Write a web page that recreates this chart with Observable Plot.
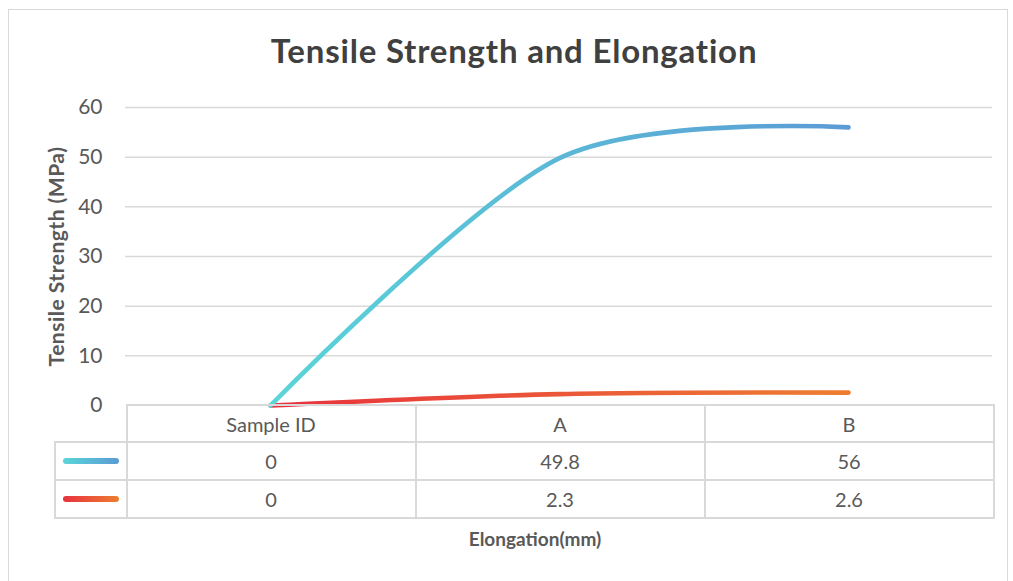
<!DOCTYPE html>
<html>
<head>
<meta charset="utf-8">
<script src="https://cdn.jsdelivr.net/npm/d3@7"></script>
<script src="https://cdn.jsdelivr.net/npm/@observablehq/plot@0.6"></script>
<style>
  html, body { margin: 0; padding: 0; background: #fff; }
  body { width: 1013px; height: 581px; position: relative; overflow: hidden; font-family: Lato, "Open Sans", sans-serif; }
  #frame { position: absolute; left: 8px; top: 9px; width: 1000px; height: 640px; border: 1px solid #d9d9d9; box-sizing: border-box; }
  #title { position: absolute; left: 0; width: 1028px; top: 30px; text-align: center; font-weight: 700; font-size: 33px; letter-spacing: 0.8px; color: #404040; line-height: 40px; }
  #chart { position: absolute; left: 0; top: 0; }
  #tbl { position: absolute; border-collapse: collapse; table-layout: fixed; color: #595959; font-size: 20px; }
  #tbl td { border: 2px solid #d9d9d9; text-align: center; padding: 0; }
  #tbl td.blank { border: none; border-bottom: 2px solid #d9d9d9; border-right: 2px solid #d9d9d9; }
  #xlabel { position: absolute; font-weight: 700; font-size: 19px; color: #595959; text-align: center; }
  .sw { display: block; margin: 0 auto; height: 6px; border-radius: 3px; }
</style>
</head>
<body>
<div id="frame"></div>
<div id="title">Tensile Strength and Elongation</div>
<div id="chart"></div>
<table id="tbl"></table>
<div id="xlabel">Elongation(mm)</div>
<script>
// ---- data ----
const categories = ["Sample ID", "A", "B"];
const seriesNames = ["Tensile Strength", "Elongation"];
const tensileValues = [0, 49.8, 56];
const elongationValues = [0, 2.3, 2.6];
const yTicks = [0, 10, 20, 30, 40, 50, 60];
const yLabel = "Tensile Strength (MPa)";
const xLabel = "Elongation(mm)";
const gradients = [
  {id: "g1", from: "#5ad5d8", to: "#5b9bd5"},
  {id: "g2", from: "#e8323e", to: "#ed7d31"}
];

const seriesValues = [tensileValues, elongationValues];
const rows = seriesNames.flatMap((s, i) => categories.map((c, j) => ({series: s, cat: c, value: seriesValues[i][j]})));

const W = 1013;
const chart = Plot.plot({
  width: W,
  height: 420,
  marginLeft: 125,
  marginRight: 21,
  marginTop: 107,
  marginBottom: 15,
  style: {fontFamily: "Lato, 'Open Sans', sans-serif", fontSize: "21px", color: "#595959", background: "transparent", overflow: "visible"},
  x: {type: "point", domain: categories, padding: 0.5, axis: null},
  y: {domain: [0, 60], ticks: yTicks, tickSize: 0, tickPadding: 23, label: yLabel, labelAnchor: "center", labelArrow: "none", labelOffset: 76},
  marks: [
    Plot.gridY(yTicks.filter(d => d > 0), {stroke: "#d9d9d9", strokeOpacity: 1, strokeWidth: 1.5}),
    Plot.line(rows.filter(d => d.series === seriesNames[1]), {x: "cat", y: "value", stroke: "url(#g2)", strokeWidth: 4.6, strokeLinecap: "round", curve: "cardinal", tension: 0.1}),
    Plot.line(rows.filter(d => d.series === seriesNames[0]), {x: "cat", y: "value", stroke: "url(#g1)", strokeWidth: 4.6, strokeLinecap: "round", curve: "cardinal", tension: 0.1})
  ]
});

// gradient defs
const ns = "http://www.w3.org/2000/svg";
const defs = document.createElementNS(ns, "defs");
for (const g of gradients) {
  const lg = document.createElementNS(ns, "linearGradient");
  lg.setAttribute("id", g.id);
  lg.setAttribute("x1", "0"); lg.setAttribute("x2", "1");
  lg.setAttribute("y1", "0"); lg.setAttribute("y2", "0");
  for (const [off, col] of [["0", g.from], ["1", g.to]]) {
    const st = document.createElementNS(ns, "stop");
    st.setAttribute("offset", off);
    st.setAttribute("stop-color", col);
    lg.appendChild(st);
  }
  defs.appendChild(lg);
}
chart.insertBefore(defs, chart.firstChild);
// y-axis label styling
chart.querySelectorAll("[aria-label='y-axis label']").forEach(g => {
  g.style.fontWeight = "700";
  g.style.fontSize = "21px";
  g.querySelectorAll("text").forEach(t => { t.style.fontWeight = "700"; t.style.fontSize = "21px"; t.style.letterSpacing = "0.5px"; });
});
document.getElementById("chart").appendChild(chart);

// ---- data table from scales ----
const xs = chart.scale("x");
const ysc = chart.scale("y");
const step = xs.apply(categories[1]) - xs.apply(categories[0]);
const left0 = xs.apply(categories[0]) - step / 2;
const legendW = 72;
const tbl = document.getElementById("tbl");
tbl.style.left = (left0 - legendW) + "px";
tbl.style.top = (ysc.apply(0) - 1) + "px";
tbl.style.width = (legendW + step * categories.length) + "px";
const cg = document.createElement("colgroup");
[legendW, ...categories.map(() => step)].forEach(w => { const c = document.createElement("col"); c.style.width = w + "px"; cg.appendChild(c); });
tbl.appendChild(cg);
const hr = tbl.insertRow();
hr.style.height = "37px";
const blank = hr.insertCell(); blank.className = "blank";
categories.forEach(c => { const td = hr.insertCell(); td.textContent = c; });
seriesNames.forEach((s, i) => {
  const tr = tbl.insertRow();
  tr.style.height = "38px";
  const lc = tr.insertCell();
  const sw = document.createElement("span");
  sw.className = "sw";
  sw.style.width = "56px";
  sw.style.background = `linear-gradient(to right, ${gradients[i].from}, ${gradients[i].to})`;
  sw.title = s;
  lc.appendChild(sw);
  seriesValues[i].forEach(v => { const td = tr.insertCell(); td.textContent = String(v); });
});
const xl = document.getElementById("xlabel");
xl.textContent = xLabel;
xl.style.left = "435px";
xl.style.width = "200px";
xl.style.top = "527px";
</script>
</body>
</html>
